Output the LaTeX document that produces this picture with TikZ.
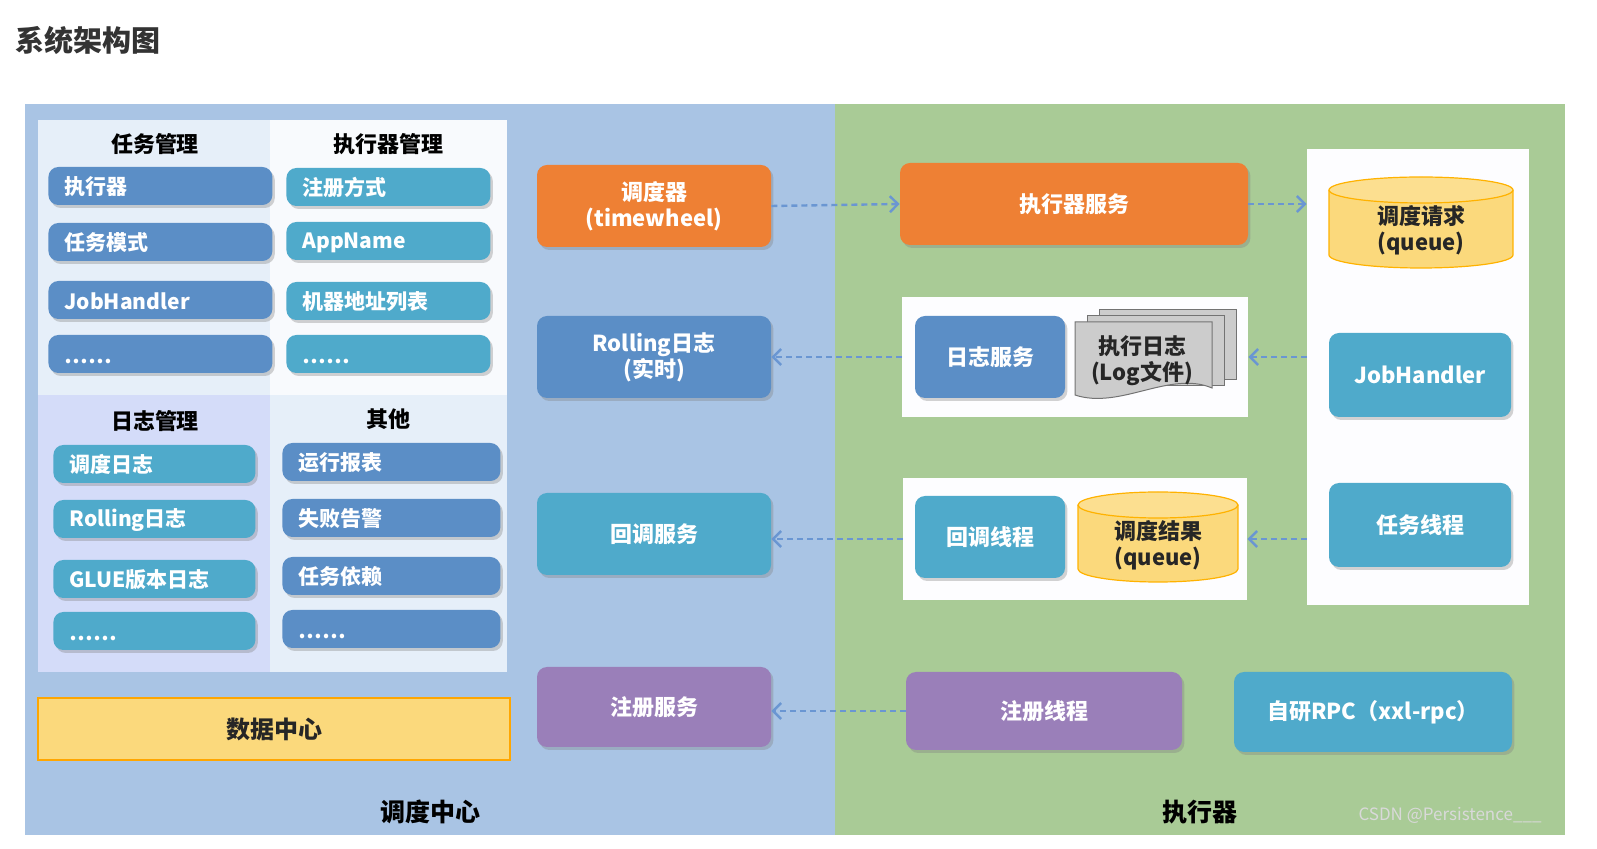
\documentclass[tikz,border=0pt]{standalone}
\usepackage{fontspec}
\setmainfont{Noto Sans CJK SC}
\usetikzlibrary{shadows,arrows.meta}
\definecolor{bgblue}{HTML}{A9C4E4}
\definecolor{bggreen}{HTML}{A9CB96}
\definecolor{pblue}{HTML}{E6EFF9}
\definecolor{bblue}{HTML}{5B8EC6}
\definecolor{bteal}{HTML}{4FAACB}
\definecolor{borange}{HTML}{EE8034}
\definecolor{bpurple}{HTML}{9A7FB9}
\definecolor{byellow}{HTML}{FBD97C}
\definecolor{arr}{HTML}{6A96D2}
\tikzset{
 bx/.style={rounded corners=5pt, draw=none, text=white, font=\bfseries\fontsize{11}{13}\selectfont, align=center, inner sep=0pt, drop shadow={opacity=0.35, shadow xshift=1.2pt, shadow yshift=-1.5pt}},
 item/.style={bx, anchor=west, text width=#1, align=left, minimum height=19pt, font=\bfseries\fontsize{10.5}{12}\selectfont},
 hdr/.style={font=\bfseries\fontsize{11}{13}\selectfont},
 dar/.style={arr, densely dashed, line width=1.2pt, -{Straight Barb[length=4pt,width=8pt]}},
 wpanel/.style={fill=white!88!blue!6, draw=none}
}
\newcommand\mycyl[6]{% x1 y1 x2 y2 name text
 \fill[byellow] (#1,#2+13) rectangle (#3,#4-13);
 \fill[byellow] ({(#1+#3)/2},#4-13) ellipse ({(#3-#1)/2} and 13);
 \draw[orange!60!yellow, line width=0.6pt] (#1,#2+13) -- (#1,#4-13) arc(180:0:{(#3-#1)/2} and 13) -- (#3,#2+13);
 \draw[orange!60!yellow, line width=0.6pt, fill=byellow!85!white] ({(#1+#3)/2},#2+13) ellipse ({(#3-#1)/2} and 13);
 \node[font=\bfseries\fontsize{11}{13}\selectfont, align=center, text=black!85] (#5) at ({(#1+#3)/2},{(#2+#4)/2+8}) {#6};
}
\begin{document}
\begin{tikzpicture}[x=0.5pt,y=-0.5pt]
\fill[white] (0,0) rectangle (1597,849);
\node[anchor=west, font=\bfseries\fontsize{14.5}{16}\selectfont, text=black!80] (title) at (8,40) {系统架构图};
\fill[bgblue] (25,104) rectangle (835,835);
\fill[bggreen] (835,104) rectangle (1565,835);
% left panel
\fill[pblue] (38,120) rectangle (507,672);
\fill[white!70!pblue] (270,120) rectangle (507,395);
\fill[pblue!92!blue] (38,395) rectangle (270,672);
\node[hdr] (h1) at (155,144) {任务管理};
\node[hdr] (h2) at (388,144) {执行器管理};
\node[hdr] (h3) at (155,421) {日志管理};
\node[hdr] (h4) at (388,419) {其他};
\foreach \y/\t [count=\i] in {186/执行器,242/任务模式,300/JobHandler,354/……}
 \node[item=96pt, fill=bblue, text height=10pt, inner xsep=8pt] (a\i) at (48,\y) {\t};
\foreach \y/\t [count=\i] in {187/注册方式,241/AppName,301/机器地址列表,354/……}
 \node[item=86pt, fill=bteal, text height=10pt, inner xsep=8pt] (b\i) at (286,\y) {\t};
\foreach \y/\t [count=\i] in {464/调度日志,519/Rolling日志,579/GLUE版本日志,631/……}
 \node[item=85pt, fill=bteal, text height=10pt, inner xsep=8pt] (c\i) at (53,\y) {\t};
\foreach \y/\t [count=\i] in {462/运行报表,518/失败告警,576/任务依赖,629/……}
 \node[item=93pt, fill=bblue, text height=10pt, inner xsep=8pt] (d\i) at (282,\y) {\t};
\node[draw=orange!70!yellow, line width=0.8pt, fill=byellow, minimum width=236pt, minimum height=31pt, font=\bfseries\fontsize{12}{14}\selectfont, text=black!85] (data) at (274,729) {数据中心};
% middle
\node[bx, fill=borange, minimum width=117pt, minimum height=41pt] (sched) at (654,206) {调度器\\(timewheel)};
\node[bx, fill=bblue, minimum width=117pt, minimum height=41pt] (roll) at (654,357) {Rolling日志\\(实时)};
\node[bx, fill=bteal, minimum width=117pt, minimum height=41pt] (cb) at (654,534) {回调服务};
\node[bx, fill=bpurple, minimum width=117pt, minimum height=40pt] (reg) at (654,707) {注册服务};
% executor
\node[bx, fill=borange, minimum width=174pt, minimum height=41pt] (exs) at (1074,204) {执行器服务};
\node[wpanel, minimum width=173pt, minimum height=60pt] (lp) at (1075,357) {};
\node[bx, fill=bblue, minimum width=75pt, minimum height=41pt] (ls) at (990,357) {日志服务};
\foreach \d in {24,12}
 \draw[fill=black!20, draw=black!55, line width=0.5pt] (1075+\d,322-\d/2) rectangle (1212+\d,392-\d/2);
\draw[fill=black!20, draw=black!55, line width=0.5pt] (1075,322) -- (1212,322) -- (1212,388) .. controls (1170,370) and (1120,410) .. (1075,395) -- cycle;
\node[font=\bfseries\fontsize{11}{13}\selectfont, align=center, text=black!85] (lf) at (1142,361) {执行日志\\(Log文件)};
\node[wpanel, minimum width=172pt, minimum height=61pt] (cp) at (1075,539) {};
\node[bx, fill=bteal, minimum width=75pt, minimum height=41pt] (ct) at (990,537) {回调线程};
\mycyl{1078}{492}{1238}{582}{rq}{调度结果\\(queue)}
\node[bx, fill=bpurple, minimum width=138pt, minimum height=39pt] (rt) at (1044,711) {注册线程};
\node[bx, fill=bteal, minimum width=139pt, minimum height=40pt] (rpc) at (1373,712) {自研RPC（xxl-rpc）};
\node[wpanel, minimum width=111pt, minimum height=228pt] (rp) at (1418,377) {};
\mycyl{1329}{177}{1513}{268}{sq}{调度请求\\(queue)}
\node[bx, fill=bteal, minimum width=91pt, minimum height=42pt] (jh) at (1420,375) {JobHandler};
\node[bx, fill=bteal, minimum width=91pt, minimum height=42pt] (tt) at (1420,525) {任务线程};
% arrows
\draw[dar] (sched.east) -- (exs.west);
\draw[dar] (exs.east) -- (exs.east -| rp.west);
\draw[dar] (rp.west |- lp.east) -- (lp.east);
\draw[dar] (lp.west) -- (roll.east);
\draw[dar] (rp.west |- cp.east) -- (cp.east);
\draw[dar] (cp.west) -- (cb.east |- cp.west);
\draw[dar] (rt.west) -- (reg.east |- rt.west);
% labels
\node[hdr, font=\bfseries\fontsize{12.5}{14}\selectfont] (l1) at (430,812) {调度中心};
\node[hdr, font=\bfseries\fontsize{12.5}{14}\selectfont] (l2) at (1200,812) {执行器};
\node[font=\fontsize{8.5}{10}\selectfont, text=white!85!black] (wm) at (1450,815) {CSDN @Persistence\_\_\_};
\pgfresetboundingbox
\useasboundingbox (0,0) rectangle (1597,849);
\end{tikzpicture}
\end{document}
